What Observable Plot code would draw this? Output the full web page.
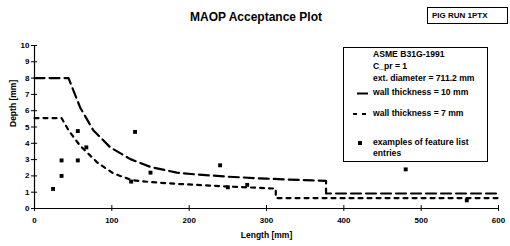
<!DOCTYPE html>
<html>
<head>
<meta charset="utf-8">
<script src="https://cdn.jsdelivr.net/npm/d3@7"></script>
<script src="https://cdn.jsdelivr.net/npm/@observablehq/plot@0.6"></script>
<style>
  html, body { margin: 0; padding: 0; background: #fff; }
  #wrap { position: relative; width: 510px; height: 246px; font-family: "Liberation Sans", Arial, sans-serif; color: #000; overflow: hidden; }
  #wrap svg { position: absolute; left: 0; top: 0; }
  .abs { position: absolute; white-space: nowrap; font-weight: bold; }
  #title { left: 0; width: 512px; text-align: center; top: 10px; font-size: 12px; }
  #run { left: 427px; top: 7px; width: 81px; height: 17px; border: 1px solid #000; font-size: 8px; line-height: 15px; text-indent: 4px; box-sizing: border-box; }
  #legend { left: 343px; top: 47px; width: 145px; height: 115px; border: 1px solid #000; box-sizing: border-box; }
  .lt { font-size: 8.6px; }
</style>
</head>
<body>
<div id="wrap"></div>
<script>
// ---- data ----
const len10   = [0, 44, 59, 76, 98, 124, 150, 184, 206, 250, 300, 360, 377, 377, 600];
const depth10 = [8, 8, 6.2, 4.8, 3.75, 3.03, 2.55, 2.2, 2.1, 1.95, 1.83, 1.72, 1.7, 0.92, 0.92];
const len7    = [0, 35, 44, 59, 81, 102, 126, 150, 188, 250, 312, 312, 600];
const depth7  = [5.55, 5.55, 4.8, 3.85, 2.83, 2.15, 1.74, 1.62, 1.5, 1.35, 1.22, 0.64, 0.64];
const featLen   = [24, 35, 35, 56, 56, 67, 125, 130, 150, 240, 250, 275, 480, 559];
const featDepth = [1.2, 2.95, 2.0, 4.75, 2.95, 3.75, 1.65, 4.7, 2.2, 2.65, 1.3, 1.45, 2.4, 0.5];
const xTicks = [0, 100, 200, 300, 400, 500, 600];
const yTicks = [0, 1, 2, 3, 4, 5, 6, 7, 8, 9, 10];
const titleText = "MAOP Acceptance Plot";
const runText = "PIG RUN 1PTX";
const legendHead = ["ASME B31G-1991", "C_pr = 1", "ext. diameter = 711.2 mm"];
const legendItems = ["wall thickness = 10 mm", "wall thickness = 7 mm", "examples of feature list", "entries"];
const xLabel = "Length [mm]";
const yLabel = "Depth [mm]";

const s10 = len10.map((x, i) => ({x, y: depth10[i]}));
const s7 = len7.map((x, i) => ({x, y: depth7[i]}));
const feats = featLen.map((x, i) => ({x, y: featDepth[i]}));

const chart = Plot.plot({
  width: 510,
  height: 246,
  marginLeft: 34,
  marginRight: 12,
  marginTop: 45,
  marginBottom: 38,
  style: {fontFamily: "'Liberation Sans', Arial, sans-serif", fontSize: "8px", fontWeight: "bold", background: "#fff"},
  x: {domain: [0, 600]},
  y: {domain: [0, 10]},
  marks: [
    Plot.axisX({ticks: xTicks, tickSize: 0, tickPadding: 9, label: null, fontWeight: "bold"}),
    Plot.axisY({ticks: yTicks, tickSize: 0, tickPadding: 5, label: null, fontWeight: "bold"}),
    Plot.ruleX(xTicks, {y1: -0.18, y2: 0.18, stroke: "#000", strokeWidth: 1}),
    Plot.ruleY(yTicks, {x1: -4, x2: 4, stroke: "#000", strokeWidth: 1}),
    Plot.ruleX([0], {stroke: "#000", strokeWidth: 1.2}),
    Plot.ruleY([0], {stroke: "#000", strokeWidth: 1.2}),
    Plot.line(s10, {x: "x", y: "y", stroke: "#000", strokeWidth: 2.2, strokeDasharray: "10,5"}),
    Plot.line(s7, {x: "x", y: "y", stroke: "#000", strokeWidth: 2.2, strokeDasharray: "4,5"}),
    Plot.dot(feats, {x: "x", y: "y", symbol: "square", r: 2.2, fill: "#000", stroke: "none"}),
    Plot.text([xLabel], {frameAnchor: "bottom", dy: 29, fontSize: 8.5, fontWeight: "bold"}),
    Plot.text([yLabel], {frameAnchor: "left", dx: -21, rotate: -90, fontSize: 8.5, fontWeight: "bold"})
  ]
});

const wrap = document.getElementById("wrap");
wrap.appendChild(chart);

function addDiv(id, cls, text, style) {
  const d = document.createElement("div");
  if (id) d.id = id;
  d.className = cls;
  if (text != null) d.textContent = text;
  if (style) Object.assign(d.style, style);
  wrap.appendChild(d);
  return d;
}
addDiv("title", "abs", titleText);
addDiv("run", "abs", runText);
addDiv("legend", "abs", null);
legendHead.forEach((t, i) => addDiv(null, "abs lt", t, {left: "373px", top: (49 + i * 12) + "px"}));
addDiv(null, "abs lt", legendItems[0], {left: "373px", top: "87px"});
addDiv(null, "abs lt", legendItems[1], {left: "373px", top: "108px"});
addDiv(null, "abs lt", legendItems[2], {left: "373px", top: "137px"});
addDiv(null, "abs lt", legendItems[3], {left: "373px", top: "148px"});

// legend swatches
const ns = "http://www.w3.org/2000/svg";
const sw = document.createElementNS(ns, "svg");
sw.setAttribute("width", 510); sw.setAttribute("height", 246);
sw.style.pointerEvents = "none";
function ln(x1, y1, x2, y2, dash) {
  const l = document.createElementNS(ns, "line");
  l.setAttribute("x1", x1); l.setAttribute("y1", y1); l.setAttribute("x2", x2); l.setAttribute("y2", y2);
  l.setAttribute("stroke", "#000"); l.setAttribute("stroke-width", 2);
  if (dash) l.setAttribute("stroke-dasharray", dash);
  sw.appendChild(l);
}
ln(357, 93.5, 368, 93.5, null);
ln(353, 114, 368, 114, "4,5");
const r = document.createElementNS(ns, "rect");
r.setAttribute("x", 358); r.setAttribute("y", 141); r.setAttribute("width", 4); r.setAttribute("height", 4);
sw.appendChild(r);
wrap.appendChild(sw);
</script>
</body>
</html>
